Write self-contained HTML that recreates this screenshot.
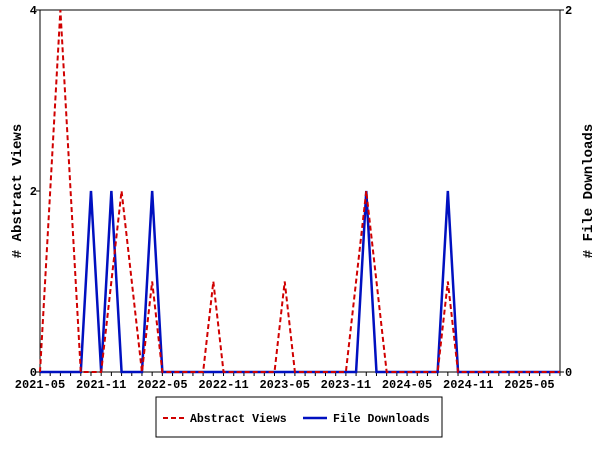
<!DOCTYPE html>
<html><head><meta charset="utf-8"><style>
body{margin:0;background:#fff;}
svg text{font-family:"Liberation Mono",monospace;font-weight:bold;font-size:12px;fill:#000;}
</style></head><body>
<svg id="chart" width="600" height="450">
<g id="g"></g>
</svg>
<script>
const months = ["2021-05","2021-06","2021-07","2021-08","2021-09","2021-10","2021-11","2021-12","2022-01","2022-02","2022-03","2022-04","2022-05","2022-06","2022-07","2022-08","2022-09","2022-10","2022-11","2022-12","2023-01","2023-02","2023-03","2023-04","2023-05","2023-06","2023-07","2023-08","2023-09","2023-10","2023-11","2023-12","2024-01","2024-02","2024-03","2024-04","2024-05","2024-06","2024-07","2024-08","2024-09","2024-10","2024-11","2024-12","2025-01","2025-02","2025-03","2025-04","2025-05","2025-06","2025-07","2025-08"];
const abstractMonths = ["2021-05","2021-07","2021-09","2021-11","2022-01","2022-03","2022-04","2022-05","2022-09","2022-10","2022-11","2023-04","2023-05","2023-06","2023-11","2024-01","2024-03","2024-08","2024-09","2024-10","2025-08"];
const abstractViews = [0,4,0,0,2,0,1,0,0,1,0,0,1,0,0,2,0,0,1,0,0];
const downloadMonths = ["2021-05","2021-09","2021-10","2021-11","2021-12","2022-01","2022-03","2022-04","2022-05","2023-12","2024-01","2024-02","2024-08","2024-09","2024-10","2025-08"];
const fileDownloads = [0,0,1,0,1,0,0,1,0,0,1,0,0,1,0,0];
const xTickLabels = ["2021-05","2021-11","2022-05","2022-11","2023-05","2023-11","2024-05","2024-11","2025-05"];
const leftTicks = [0,2,4];
const rightTicks = [0,2];

const L=40,R=560,T=10,B=372;
const x=i=>L+i*(R-L)/(months.length-1);
const xm=m=>x(months.indexOf(m));
const yL=v=>B-v/4*(B-T);
const yR=v=>B-v/2*(B-T);
const g=document.getElementById('g');
const NS="http://www.w3.org/2000/svg";
function mk(tag,attrs,parent){const e=document.createElementNS(NS,tag);for(const k in attrs)e.setAttribute(k,attrs[k]);(parent||g).appendChild(e);return e;}

const frame=mk('rect',{x:L,y:T,width:R-L,height:B-T,fill:'none',stroke:'#000','stroke-width':1});



months.forEach((m,i)=>{const t=mk('line',{x1:x(i),x2:x(i),y1:B,y2:B+4,stroke:'#000'});

});
xTickLabels.forEach(lab=>{const t=mk('text',{x:xm(lab),y:B+16,'text-anchor':'middle'});t.textContent=lab;

});
leftTicks.forEach(v=>{mk('line',{x1:L-4,x2:L,y1:yL(v),y2:yL(v),stroke:'#000'});const t=mk('text',{x:L-3,y:yL(v)+4,'text-anchor':'end'});t.textContent=v;

});
rightTicks.forEach(v=>{mk('line',{x1:R,x2:R+4,y1:yR(v),y2:yR(v),stroke:'#000'});const t=mk('text',{x:R+5,y:yR(v)+4,'text-anchor':'start'});t.textContent=v;

});

const yl=mk('text',{x:0,y:0,transform:'translate(21,191) rotate(-90)','text-anchor':'middle',style:'font-size:14px'});yl.textContent='# Abstract Views';


const yr=mk('text',{x:0,y:0,transform:'translate(592,191) rotate(-90)','text-anchor':'middle',style:'font-size:14px'});yr.textContent='# File Downloads';



const pd=mk('polyline',{points:fileDownloads.map((v,i)=>xm(downloadMonths[i])+','+yR(v)).join(' '),fill:'none',stroke:'#0010c0','stroke-width':2.5});


const pa=mk('polyline',{points:abstractViews.map((v,i)=>xm(abstractMonths[i])+','+yL(v)).join(' '),fill:'none',stroke:'#d00000','stroke-width':2,'stroke-dasharray':'5,3'});



const lg=mk('g',{});


mk('rect',{x:156,y:397,width:286,height:40,fill:'#fff',stroke:'#000'},lg);
mk('line',{x1:163,x2:185,y1:418,y2:418,stroke:'#d00000','stroke-width':2,'stroke-dasharray':'5,3'},lg);
const t1=mk('text',{x:190,y:422,style:'font-size:11.5px'},lg);t1.textContent='Abstract Views';


mk('line',{x1:303,x2:327,y1:418,y2:418,stroke:'#0010c0','stroke-width':2.5},lg);
const t2=mk('text',{x:333,y:422,style:'font-size:11.5px'},lg);t2.textContent='File Downloads';


</script>
</body></html>
